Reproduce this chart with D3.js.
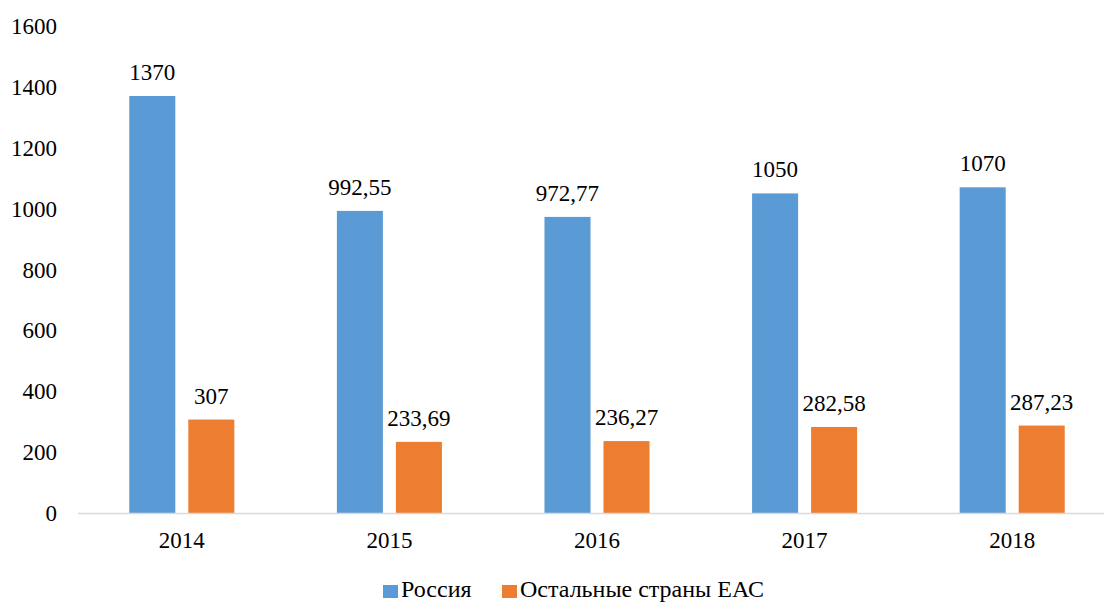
<!DOCTYPE html>
<html><head><meta charset="utf-8">
<script src="https://cdn.jsdelivr.net/npm/d3@7"></script>
<style>
html,body{margin:0;padding:0;background:#fff;}
</style></head>
<body><svg id="c" width="1104" height="603" font-family="'Liberation Serif', 'Times New Roman', 'DejaVu Serif', serif"></svg>
<script>
const years = ["2014","2015","2016","2017","2018"];
const seriesNames = ["Россия","Остальные страны ЕАС"];
const russia = [1370, 992.55, 972.77, 1050, 1070];
const others = [307, 233.69, 236.27, 282.58, 287.23];
const yTicks = [0,200,400,600,800,1000,1200,1400,1600];
const colors = ["#5B9BD5","#ED7D31"];

const values = [russia, others];
const svg = d3.select("#c");
const fs = 23;

const y = d3.scaleLinear().domain([0,1600]).range([513,26]);
const x0 = d3.scaleBand().domain(years).range([78,1116]).paddingInner(0.494).paddingOuter(0.247);
const x1 = d3.scaleBand().domain(seriesNames).range([0,x0.bandwidth()]).paddingInner(0.22);

// y axis labels
svg.append("g").selectAll("text").data(yTicks).join("text")
  .attr("x",57).attr("y",d=>y(d)).attr("dy","0.35em")
  .attr("text-anchor","end").attr("font-size",fs).attr("fill","#000").text(d=>d);

// bars
const g = svg.append("g");
seriesNames.forEach((s,si)=>{
  g.selectAll(null).data(years).join("rect")
    .attr("x",d=>x0(d)+x1(s))
    .attr("y",(d,i)=>y(values[si][i]))
    .attr("width",x1.bandwidth())
    .attr("height",(d,i)=>y(0)-y(values[si][i]))
    .attr("fill",colors[si]);
  g.selectAll(null).data(years).join("text")
    .attr("x",d=>x0(d)+x1(s)+x1.bandwidth()/2)
    .attr("y",(d,i)=>y(values[si][i])-16)
    .attr("text-anchor","middle").attr("font-size",fs).attr("fill","#000")
    .text((d,i)=>String(values[si][i]).replace(".",","));
});

// x axis line
svg.append("line").attr("x1",78).attr("x2",1104).attr("y1",y(0)+0.5).attr("y2",y(0)+0.5)
  .attr("stroke","#D9D9D9").attr("stroke-width",1.5);

// x labels
svg.append("g").selectAll("text").data(years).join("text")
  .attr("x",d=>x0(d)+x0.bandwidth()/2).attr("y",548)
  .attr("text-anchor","middle").attr("font-size",fs).attr("fill","#000").text(d=>d);

// legend
const legX = [383, 502];
seriesNames.forEach((s,i)=>{
  svg.append("rect").attr("x",legX[i]).attr("y",585).attr("width",15).attr("height",13).attr("fill",colors[i]);
  svg.append("text").attr("x",legX[i]+18).attr("y",597).attr("font-size",24).attr("fill","#000").text(s);
});
</script></body></html>
